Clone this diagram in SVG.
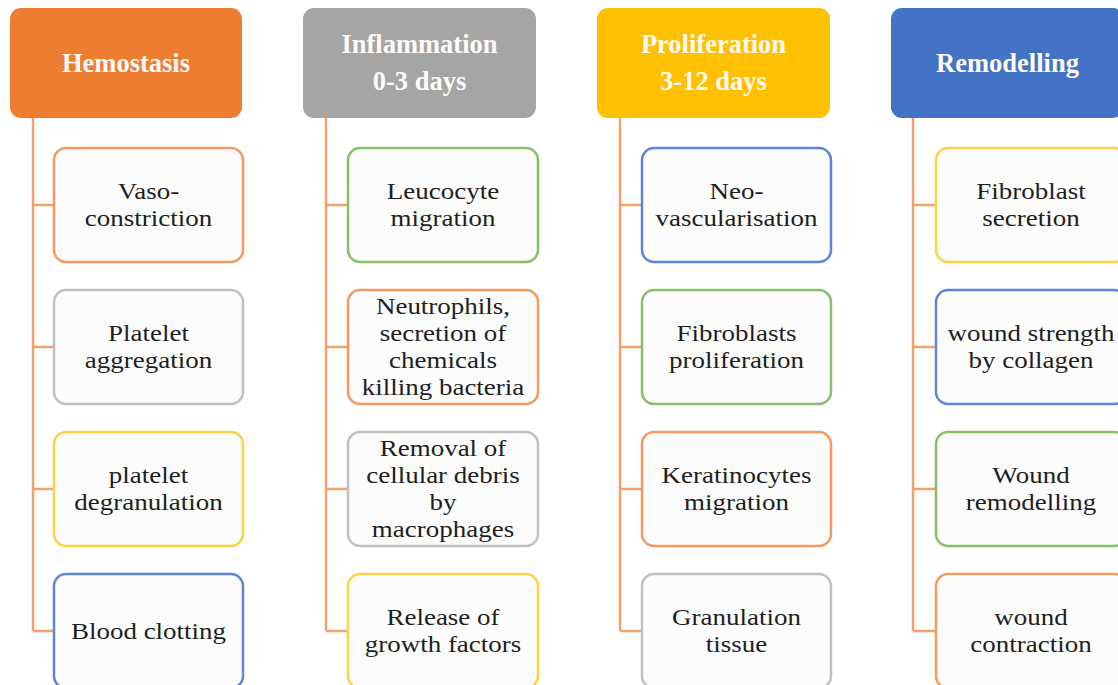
<svg xmlns="http://www.w3.org/2000/svg" width="1118" height="685" viewBox="0 0 1118 685">
  <style>
    .hdr { stroke: none; }
    .hdr-text { font-family: "Liberation Serif", "Times New Roman", serif; font-weight: bold; font-size: 26.5px; fill: #fffaf5; text-anchor: middle; }
    .box { fill: #fcfcfc; stroke-width: 2.5; }
    .box-text { font-family: "Liberation Serif", "Times New Roman", serif; font-size: 24px; fill: #1e1e1e; text-anchor: middle; }
    .o { stroke: #f29a60; }
    .g { stroke: #c0c0c0; }
    .y { stroke: #ffd145; }
    .b { stroke: #5d86d6; }
    .gr { stroke: #89bf68; }
    .conn { fill: none; stroke: #f4a06a; stroke-width: 2.5; }
  </style>

  <rect width="1118" height="685" fill="#ffffff"/>

  <!-- connectors: one spine per column with a stub to each item -->
  <g id="connectors">
    <path class="conn" d="M33,118 V631 M33,205 H54 M33,347 H54 M33,489 H54 M33,631 H54"/>
    <path class="conn" d="M326,118 V631 M326,205 H348 M326,347 H348 M326,489 H348 M326,631 H348"/>
    <path class="conn" d="M620,118 V631 M620,205 H642 M620,347 H642 M620,489 H642 M620,631 H642"/>
    <path class="conn" d="M913,118 V631 M913,205 H936 M913,347 H936 M913,489 H936 M913,631 H936"/>
  </g>

  <!-- column headers -->
  <g id="hdr-hemostasis">
    <rect class="hdr" x="10" y="8" width="232" height="110" rx="11" fill="#ed7d31"/>
    <text class="hdr-text" x="126" y="72">Hemostasis</text>
  </g>
  <g id="hdr-inflammation">
    <rect class="hdr" x="303" y="8" width="233" height="110" rx="11" fill="#a5a5a5"/>
    <text class="hdr-text" x="419.5" y="53">Inflammation<tspan x="419.5" dy="37">0-3 days</tspan></text>
  </g>
  <g id="hdr-proliferation">
    <rect class="hdr" x="597" y="8" width="233" height="110" rx="11" fill="#ffc000"/>
    <text class="hdr-text" x="713.5" y="53">Proliferation<tspan x="713.5" dy="37">3-12 days</tspan></text>
  </g>
  <g id="hdr-remodelling">
    <rect class="hdr" x="891" y="8" width="233" height="110" rx="11" fill="#4472c4"/>
    <text class="hdr-text" x="1007.5" y="72">Remodelling</text>
  </g>

  <!-- item labels are set slightly condensed in height: each is drawn at x=0 and
       placed on the box centre by translate, then widened by scale -->

  <!-- Hemostasis items -->
  <g id="vasoconstriction">
    <rect class="box o" x="54" y="148" width="189" height="114" rx="12"/>
    <text class="box-text" transform="translate(148.5 0) scale(1.125 1)" x="0" y="199.5">Vaso-<tspan x="0" dy="27">constriction</tspan></text>
  </g>
  <g id="platelet-aggregation">
    <rect class="box g" x="54" y="290" width="189" height="114" rx="12"/>
    <text class="box-text" transform="translate(148.5 0) scale(1.125 1)" x="0" y="341.5">Platelet<tspan x="0" dy="27">aggregation</tspan></text>
  </g>
  <g id="platelet-degranulation">
    <rect class="box y" x="54" y="432" width="189" height="114" rx="12"/>
    <text class="box-text" transform="translate(148.5 0) scale(1.125 1)" x="0" y="483.5">platelet<tspan x="0" dy="27">degranulation</tspan></text>
  </g>
  <g id="blood-clotting">
    <rect class="box b" x="54" y="574" width="189" height="114" rx="12"/>
    <text class="box-text" transform="translate(148.5 0) scale(1.125 1)" x="0" y="639">Blood clotting</text>
  </g>

  <!-- Inflammation items -->
  <g id="leucocyte-migration">
    <rect class="box gr" x="348" y="148" width="190" height="114" rx="12"/>
    <text class="box-text" transform="translate(443 0) scale(1.125 1)" x="0" y="199.5">Leucocyte<tspan x="0" dy="27">migration</tspan></text>
  </g>
  <g id="neutrophils">
    <rect class="box o" x="348" y="290" width="190" height="114" rx="12"/>
    <text class="box-text" transform="translate(443 0) scale(1.125 1)" x="0" y="314.5">Neutrophils,<tspan x="0" dy="27">secretion of</tspan><tspan x="0" dy="26.5">chemicals</tspan><tspan x="0" dy="27">killing bacteria</tspan></text>
  </g>
  <g id="debris-removal">
    <rect class="box g" x="348" y="432" width="190" height="114" rx="12"/>
    <text class="box-text" transform="translate(443 0) scale(1.125 1)" x="0" y="456.5">Removal of<tspan x="0" dy="27">cellular debris</tspan><tspan x="0" dy="26.5">by</tspan><tspan x="0" dy="27">macrophages</tspan></text>
  </g>
  <g id="growth-factors">
    <rect class="box y" x="348" y="574" width="190" height="114" rx="12"/>
    <text class="box-text" transform="translate(443 0) scale(1.125 1)" x="0" y="625.5">Release of<tspan x="0" dy="27">growth factors</tspan></text>
  </g>

  <!-- Proliferation items -->
  <g id="neovascularisation">
    <rect class="box b" x="642" y="148" width="189" height="114" rx="12"/>
    <text class="box-text" transform="translate(736.5 0) scale(1.125 1)" x="0" y="199.5">Neo-<tspan x="0" dy="27">vascularisation</tspan></text>
  </g>
  <g id="fibroblasts-proliferation">
    <rect class="box gr" x="642" y="290" width="189" height="114" rx="12"/>
    <text class="box-text" transform="translate(736.5 0) scale(1.125 1)" x="0" y="341.5">Fibroblasts<tspan x="0" dy="27">proliferation</tspan></text>
  </g>
  <g id="keratinocytes-migration">
    <rect class="box o" x="642" y="432" width="189" height="114" rx="12"/>
    <text class="box-text" transform="translate(736.5 0) scale(1.125 1)" x="0" y="483.5">Keratinocytes<tspan x="0" dy="27">migration</tspan></text>
  </g>
  <g id="granulation-tissue">
    <rect class="box g" x="642" y="574" width="189" height="114" rx="12"/>
    <text class="box-text" transform="translate(736.5 0) scale(1.125 1)" x="0" y="625.5">Granulation<tspan x="0" dy="27">tissue</tspan></text>
  </g>

  <!-- Remodelling items -->
  <g id="fibroblast-secretion">
    <rect class="box y" x="936" y="148" width="190" height="114" rx="12"/>
    <text class="box-text" transform="translate(1031 0) scale(1.125 1)" x="0" y="199.5">Fibroblast<tspan x="0" dy="27">secretion</tspan></text>
  </g>
  <g id="wound-strength">
    <rect class="box b" x="936" y="290" width="190" height="114" rx="12"/>
    <text class="box-text" transform="translate(1031 0) scale(1.125 1)" x="0" y="341.5">wound strength<tspan x="0" dy="27">by collagen</tspan></text>
  </g>
  <g id="wound-remodelling">
    <rect class="box gr" x="936" y="432" width="190" height="114" rx="12"/>
    <text class="box-text" transform="translate(1031 0) scale(1.125 1)" x="0" y="483.5">Wound<tspan x="0" dy="27">remodelling</tspan></text>
  </g>
  <g id="wound-contraction">
    <rect class="box o" x="936" y="574" width="190" height="114" rx="12"/>
    <text class="box-text" transform="translate(1031 0) scale(1.125 1)" x="0" y="625.5">wound<tspan x="0" dy="27">contraction</tspan></text>
  </g>
</svg>
